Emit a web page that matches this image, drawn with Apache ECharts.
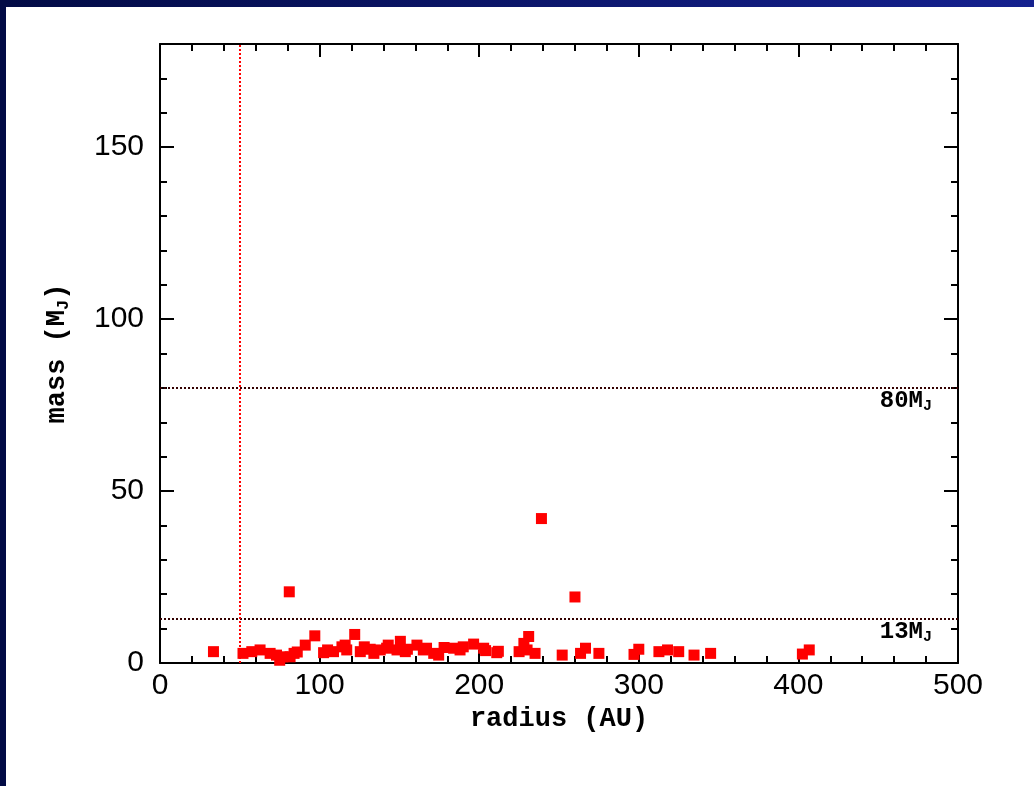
<!DOCTYPE html>
<html><head><meta charset="utf-8">
<script src="https://cdn.jsdelivr.net/npm/echarts@6/dist/echarts.min.js"></script>
<style>html,body{margin:0;padding:0;background:#fff}#c{width:1034px;height:786px}</style>
</head><body><div id="c"></div>
<script>
const radius = [33.5,52,57.5,62.7,69,73,75,77,81,81.5,84,86,91,97,102.5,105,108.7,114,116,117,122,125.5,128,131.7,134,138,142,143,148.5,150.6,153.7,155,161,165,167,171.5,174.6,178,184,188,190,196.5,202.8,204,211,212,225,228,230,231,235,239,252,260,263.5,266.6,275,297,300,312.6,318,325,334.6,345,402.5,406.8];
const mass   = [3.3,2.8,3.3,3.8,2.8,2.3,0.8,1.8,20.7,1.8,2.8,3.2,5.2,7.9,3.0,3.8,3.3,4.7,5.2,3.8,8.3,3.3,4.7,4.0,2.8,3.8,4.3,5.2,3.8,6.3,3.3,4.0,5.2,3.8,4.3,2.8,2.3,4.5,4.3,3.8,4.7,5.5,4.3,3.6,3.0,3.4,3.3,5.7,3.8,7.7,2.8,42,2.3,19.2,2.8,4.3,2.8,2.5,4.0,3.3,3.8,3.3,2.3,2.8,2.6,3.8];
const xTicks = [0,100,200,300,400,500];
const yTicks = [0,50,100,150];
const refMass = [80, 13];
const refLabels = ['80', '13'];
const innerRadius = 50;

const chart = echarts.init(document.getElementById('c'));
const numFont = 'Liberation Sans';
const monoFont = 'Liberation Mono';
const black = '#000';
function xAx(pos, showLabel){
  return {type:'value', position:pos, min:0, max:500, interval:100,
    axisLine:{show:true, onZero:false, lineStyle:{color:black,width:2}},
    axisTick:{show:true, inside:true, length:13, lineStyle:{color:black,width:2}},
    minorTick:{show:true, splitNumber:5, length:7, lineStyle:{color:black,width:2}},
    splitLine:{show:false},
    axisLabel:{show:showLabel, fontFamily:numFont, fontSize:30, color:black, margin:8},
    name: showLabel ? '{a|radius (AU)}' : '', nameLocation:'middle', nameGap:43,
    nameTextStyle:{rich:{a:{fontFamily:monoFont, fontWeight:'bold', fontSize:27, color:black}}}
  };
}
function yAx(pos, major, showLabel){
  return {type:'value', position:pos, min:0, max:180, interval: major?50:10,
    axisLine:{show:!major, onZero:false, lineStyle:{color:black,width:2}},
    axisTick:{show:true, inside:true, length: major?14:7, lineStyle:{color:black,width:2}},
    splitLine:{show:false},
    axisLabel:{show:showLabel, fontFamily:numFont, fontSize:30, color:black, margin:16,
      formatter: v => yTicks.indexOf(v) >= 0 ? String(v) : ''},
    name: showLabel ? '{a|mass (M}{s|J}{a|)}' : '', nameLocation:'middle', nameGap:88,
    nameTextStyle:{rich:{a:{fontFamily:monoFont, fontWeight:'bold', fontSize:27, color:black},
                         s:{fontFamily:monoFont, fontWeight:'bold', fontSize:17, color:black, padding:[12,0,0,0]}}}
  };
}
const lblRich = {a:{fontFamily:monoFont, fontWeight:'bold', fontSize:24, color:black},
                 s:{fontFamily:monoFont, fontWeight:'bold', fontSize:15, color:black, padding:[10,0,0,0]}};

chart.setOption({
  animation:false,
  backgroundColor:'#ffffff',
  graphic:[
    {type:'rect', left:0, top:0, shape:{width:1034, height:7}, silent:true,
     style:{fill:new echarts.graphic.LinearGradient(0,0,1,0,[{offset:0,color:'#020b45'},{offset:1,color:'#15218f'}])}},
    {type:'rect', left:0, top:0, shape:{width:6, height:786}, silent:true, style:{fill:'#020b45'}}
  ],
  grid:{left:160, right:76, top:44, bottom:123, containLabel:false},
  xAxis:[xAx('bottom', true), xAx('top', false)],
  yAxis:[yAx('left', false, true), yAx('left', true, false), yAx('right', false, false), yAx('right', true, false)],
  series:[{
    type:'scatter', xAxisIndex:0, yAxisIndex:0,
    symbol:'rect', symbolSize:11,
    itemStyle:{color:'#ff0000', opacity:1},
    data: radius.map((r,i)=>[r, mass[i]]),
    markLine:{
      silent:true, symbol:'none', animation:false,
      data:[
        ...refMass.map((m,i)=>({yAxis:m,
          lineStyle:{color:'#330000', type:[2,2], width:2},
          label:{show:true, position:'insideEndBottom', distance:[26,1],
                 formatter:'{a|'+refLabels[i]+'M}{s|J}', rich:lblRich}})),
        {xAxis:innerRadius, lineStyle:{color:'#ff0000', type:[2,2], width:2}, label:{show:false}}
      ]
    }
  }]
});
</script></body></html>
